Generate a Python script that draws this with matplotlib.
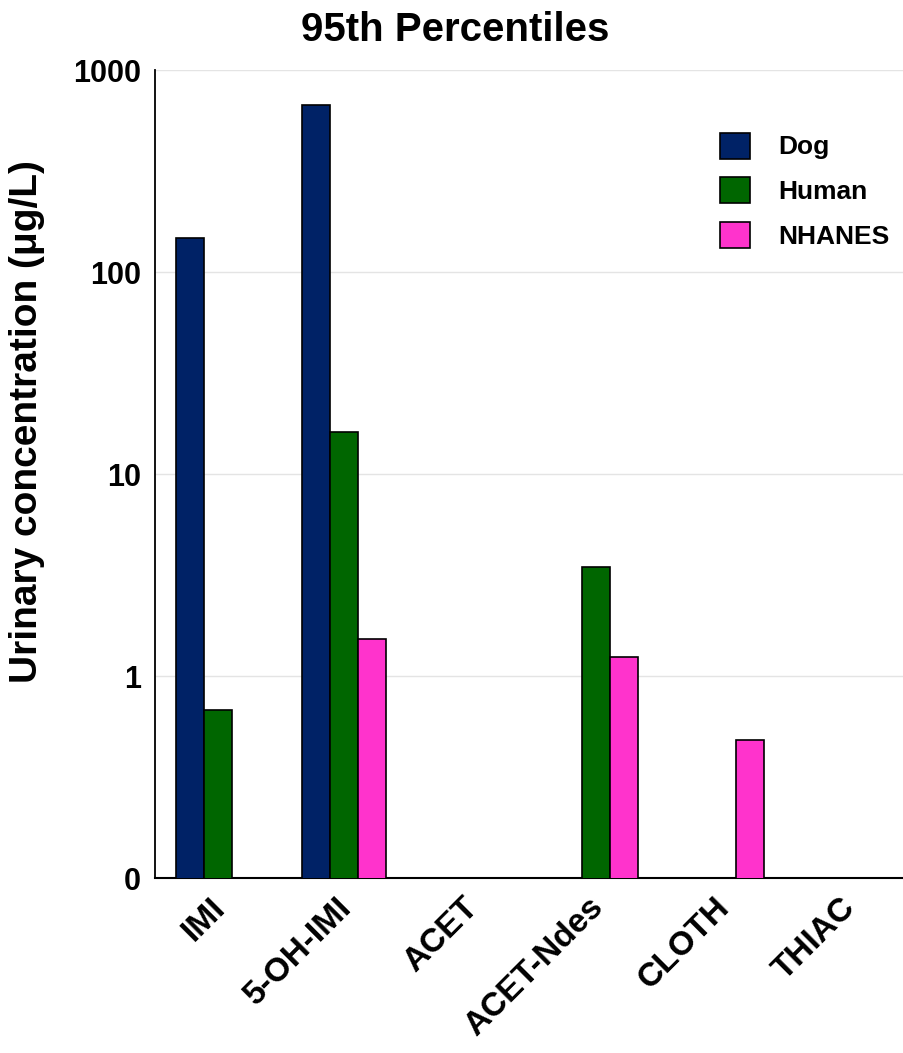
import numpy as np
import matplotlib
matplotlib.use("Agg")
import matplotlib.pyplot as plt
from matplotlib.patches import Patch
from matplotlib.transforms import ScaledTranslation

plt.rcParams['font.family'] = ['Liberation Sans', 'DejaVu Sans']
plt.rcParams['font.weight'] = 'bold'

categories = ["IMI", "5-OH-IMI", "ACET", "ACET-Ndes", "CLOTH", "THIAC"]
dog = [147, 670, np.nan, np.nan, np.nan, np.nan]
human = [0.68, 16.1, np.nan, 3.47, np.nan, np.nan]
nhanes = [np.nan, 1.52, np.nan, 1.24, 0.48, np.nan]
series_names = ["Dog", "Human", "NHANES"]
series_colors = ["#002266", "#006600", "#ff33cc"]
y_ticks = [0.1, 1, 10, 100, 1000]
y_ticklabels = ["0", "1", "10", "100", "1000"]

W, H = 904, 1053
fig = plt.figure(figsize=(W / 100, H / 100), dpi=100)
ax = fig.add_axes([155 / W, 1 - 878 / H, 749 / W, 808 / H])

x = np.arange(len(categories))
bw = 0.222
for i, (vals, name, col) in enumerate(zip([dog, human, nhanes], series_names, series_colors)):
    ax.bar(x + (i - 1) * bw, vals, width=bw, color=col, edgecolor="black",
           linewidth=1.2, label=name, zorder=3)

ax.set_yscale("log")
ax.set_ylim(0.1, 1000)
ax.set_xlim(-0.5, -0.5 + 749 / 126)
ax.set_yticks(y_ticks)
ax.set_yticklabels(y_ticklabels, fontsize=22, fontweight="bold")
ax.yaxis.set_minor_locator(matplotlib.ticker.NullLocator())
ax.tick_params(axis="y", length=0, pad=10)
ax.set_xticks(x)
ax.set_xticklabels(categories, rotation=45, ha="right", rotation_mode="anchor",
                   fontsize=24, fontweight="bold")
ax.tick_params(axis="x", length=0, pad=10)
shift = ScaledTranslation(-8 / 100, 0, fig.dpi_scale_trans)
for lbl in ax.get_xticklabels():
    lbl.set_transform(lbl.get_transform() + shift)

ax.grid(axis="y", color="#e4e4e4", linewidth=1, zorder=0)
ax.set_axisbelow(True)
for s in ["top", "right"]:
    ax.spines[s].set_visible(False)
ax.spines["left"].set_linewidth(1.3)
ax.spines["bottom"].set_linewidth(1.5)

fig.text(27 / W, 1 - 422 / H, "Urinary concentration (μg/L)", rotation=90,
         ha="center", va="center", fontsize=28, fontweight="bold")

fig.text(455 / W, 1 - 30 / H, "95th Percentiles", ha="center", va="center",
         fontsize=29, fontweight="bold")

handles = [Patch(facecolor=c, edgecolor="black", linewidth=1.2) for c in series_colors]
ax.legend(handles, series_names, loc="upper left", bbox_to_anchor=(0.7226, 0.952),
          frameon=False, handlelength=1.14, handleheight=1.14,
          labelspacing=0.68, handletextpad=1.06, prop={"weight": "bold", "size": 19})

fig.savefig("out.png", dpi=100)
